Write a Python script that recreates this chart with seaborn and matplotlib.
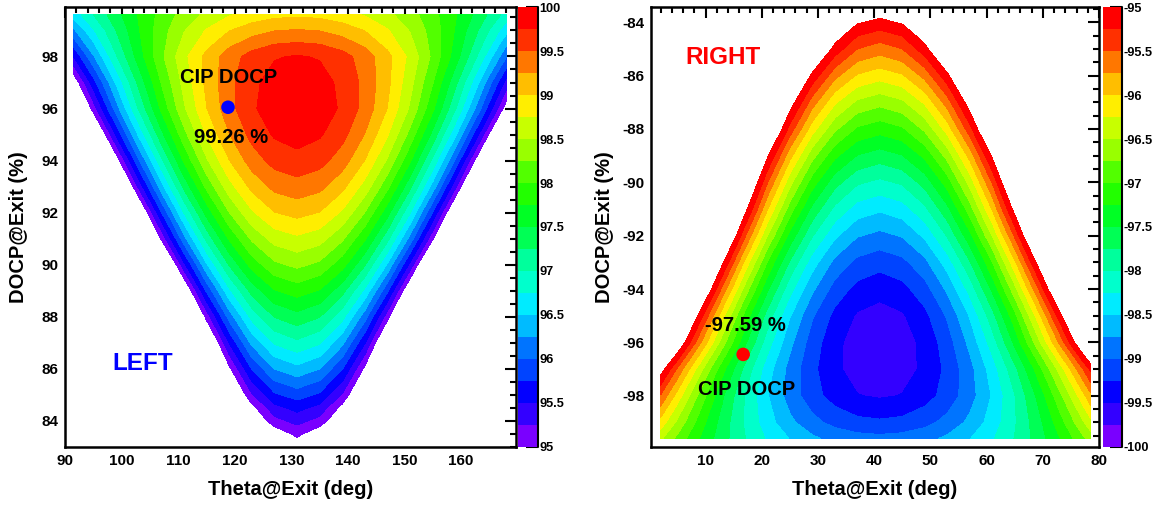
import numpy as np
import matplotlib
matplotlib.use("Agg")
import matplotlib.pyplot as plt
import matplotlib.cm as cm
from matplotlib.colors import ListedColormap, BoundaryNorm
from matplotlib.ticker import MultipleLocator, FuncFormatter
import seaborn as sns

sns.set_style("white")
plt.rcParams['font.family'] = ['Liberation Sans', 'DejaVu Sans']
plt.rcParams['font.weight'] = 'bold'
plt.rcParams['axes.unicode_minus'] = False
plt.rcParams['text.color'] = 'black'
plt.rcParams['axes.labelcolor'] = 'black'
plt.rcParams['xtick.color'] = 'black'
plt.rcParams['ytick.color'] = 'black'

# 20 contour bands, violet -> red (ROOT "pretty" palette)
band_colors = ['#7A00FF', '#3300FF', '#0300FF', '#0044FF', '#0074FF',
               '#00BBFF', '#00EBFF', '#00FFCC', '#00FF9C', '#00FF55',
               '#00FF25', '#22FF00', '#52FF00', '#99FF00', '#C8FF00',
               '#FFEE00', '#FFBE00', '#FF7700', '#FF3000', '#FF0000']

# ---------------- LEFT: DOCP (%) ----------------
left_theta = [91.5, 95, 99, 103, 107, 111, 115, 119, 123, 127, 131,
              135, 139, 143, 147, 151, 155, 159, 163, 167, 168]
left_docp_exit = [83, 83.5, 84, 84.5, 85, 86, 87, 88, 89, 90, 91, 92, 93, 94,
                  95, 96, 97, 98, 99, 99.6]
left_cip_docp = [
    [76.10, 79.20, 82.50, 85.40, 87.90, 90.00, 91.73, 93.07, 94.03, 94.61, 94.80, 94.61, 94.03, 93.07, 91.73, 90.00, 87.90, 85.40, 82.50, 79.20, 78.40],
    [77.80, 80.40, 83.20, 85.90, 88.20, 90.20, 91.90, 93.25, 94.20, 94.79, 95.07, 94.79, 94.20, 93.25, 91.90, 90.20, 88.20, 85.90, 83.20, 80.40, 79.60],
    [78.90, 81.70, 84.56, 87.08, 89.27, 91.12, 92.64, 93.81, 94.66, 95.16, 95.33, 95.16, 94.66, 93.81, 92.64, 91.12, 89.27, 87.08, 84.56, 81.70, 80.90],
    [79.06, 81.85, 84.74, 87.28, 89.48, 91.34, 92.87, 94.05, 94.90, 95.41, 95.58, 95.41, 94.90, 94.05, 92.87, 91.34, 89.48, 87.28, 84.74, 81.85, 81.08],
    [80.35, 82.97, 85.68, 88.07, 90.13, 91.88, 93.31, 94.43, 95.22, 95.70, 95.86, 95.70, 95.22, 94.43, 93.31, 91.88, 90.13, 88.07, 85.68, 82.97, 82.25],
    [80.24, 82.98, 85.80, 88.29, 90.45, 92.27, 93.76, 94.93, 95.76, 96.25, 96.42, 96.25, 95.76, 94.93, 93.76, 92.27, 90.45, 88.29, 85.80, 82.98, 82.22],
    [81.50, 84.11, 86.80, 89.18, 91.24, 92.98, 94.41, 95.51, 96.31, 96.78, 96.94, 96.78, 96.31, 95.51, 94.41, 92.98, 91.24, 89.18, 86.80, 84.11, 83.39],
    [83.26, 85.65, 88.12, 90.30, 92.19, 93.78, 95.09, 96.10, 96.83, 97.26, 97.41, 97.26, 96.83, 96.10, 95.09, 93.78, 92.19, 90.30, 88.12, 85.65, 84.99],
    [85.23, 87.37, 89.57, 91.52, 93.20, 94.62, 95.79, 96.69, 97.34, 97.73, 97.86, 97.73, 97.34, 96.69, 95.79, 94.62, 93.20, 91.52, 89.57, 87.37, 86.78],
    [87.03, 88.94, 90.91, 92.64, 94.15, 95.42, 96.46, 97.27, 97.85, 98.19, 98.31, 98.19, 97.85, 97.27, 96.46, 95.42, 94.15, 92.64, 90.91, 88.94, 88.42],
    [88.76, 90.44, 92.18, 93.71, 95.03, 96.15, 97.07, 97.78, 98.29, 98.60, 98.70, 98.60, 98.29, 97.78, 97.07, 96.15, 95.03, 93.71, 92.18, 90.44, 89.98],
    [90.02, 91.55, 93.13, 94.53, 95.73, 96.76, 97.59, 98.24, 98.71, 98.99, 99.08, 98.99, 98.71, 98.24, 97.59, 96.76, 95.73, 94.53, 93.13, 91.55, 91.13],
    [91.24, 92.62, 94.04, 95.30, 96.39, 97.31, 98.06, 98.65, 99.07, 99.32, 99.40, 99.32, 99.07, 98.65, 98.06, 97.31, 96.39, 95.30, 94.04, 92.62, 92.24],
    [92.28, 93.53, 94.82, 95.96, 96.94, 97.78, 98.46, 98.99, 99.37, 99.59, 99.67, 99.59, 99.37, 98.99, 98.46, 97.78, 96.94, 95.96, 94.82, 93.53, 93.19],
    [93.27, 94.38, 95.53, 96.54, 97.42, 98.16, 98.77, 99.24, 99.58, 99.78, 99.85, 99.78, 99.58, 99.24, 98.77, 98.16, 97.42, 96.54, 95.53, 94.38, 94.07],
    [94.12, 95.11, 96.12, 97.02, 97.80, 98.46, 98.99, 99.41, 99.71, 99.89, 99.95, 99.89, 99.71, 99.41, 98.99, 98.46, 97.80, 97.02, 96.12, 95.11, 94.84],
    [94.77, 95.64, 96.53, 97.32, 98.01, 98.58, 99.06, 99.43, 99.69, 99.85, 99.90, 99.85, 99.69, 99.43, 99.06, 98.58, 98.01, 97.32, 96.53, 95.64, 95.40],
    [95.50, 96.22, 96.97, 97.62, 98.19, 98.68, 99.07, 99.38, 99.60, 99.73, 99.77, 99.73, 99.60, 99.38, 99.07, 98.68, 98.19, 97.62, 96.97, 96.22, 96.02],
    [96.20, 96.72, 97.25, 97.73, 98.14, 98.48, 98.77, 98.99, 99.14, 99.24, 99.27, 99.24, 99.14, 98.99, 98.77, 98.48, 98.14, 97.73, 97.25, 96.72, 96.58],
    [96.60, 97.00, 97.41, 97.77, 98.08, 98.35, 98.56, 98.73, 98.85, 98.93, 98.95, 98.93, 98.85, 98.73, 98.56, 98.35, 98.08, 97.77, 97.41, 97.00, 96.89],
]
left_levels = np.arange(95, 100.001, 0.25)
left_cip = (118.8, 96.05)
left_cip_text = '99.26 %'

# ---------------- RIGHT ----------------
right_theta = [2, 5, 9, 13, 17, 21, 25, 29, 33, 37, 41,
               45, 49, 53, 57, 61, 65, 69, 73, 77, 78.5]
right_docp_exit = [-99.6, -99, -98, -97, -96, -95, -94, -93, -92, -91, -90,
                   -89, -88, -87, -86, -85, -84.5, -84, -83.4]
right_cip_docp = [
    [-96.45, -96.82, -97.26, -97.65, -97.99, -98.28, -98.51, -98.70, -98.83, -98.90, -98.93, -98.90, -98.83, -98.70, -98.51, -98.28, -97.99, -97.65, -97.26, -96.82, -96.64],
    [-96.10, -96.56, -97.12, -97.61, -98.03, -98.39, -98.69, -98.92, -99.08, -99.18, -99.21, -99.18, -99.08, -98.92, -98.69, -98.39, -98.03, -97.61, -97.12, -96.56, -96.33],
    [-95.52, -96.11, -96.83, -97.46, -98.01, -98.48, -98.86, -99.15, -99.36, -99.49, -99.53, -99.49, -99.36, -99.15, -98.86, -98.48, -98.01, -97.46, -96.83, -96.11, -95.82],
    [-94.83, -95.54, -96.40, -97.16, -97.82, -98.38, -98.84, -99.19, -99.45, -99.60, -99.65, -99.60, -99.45, -99.19, -98.84, -98.38, -97.82, -97.16, -96.40, -95.54, -95.19],
    [-93.77, -94.64, -95.70, -96.63, -97.44, -98.13, -98.68, -99.12, -99.43, -99.62, -99.68, -99.62, -99.43, -99.12, -98.68, -98.13, -97.44, -96.63, -95.70, -94.64, -94.21],
    [-92.93, -93.92, -95.11, -96.16, -97.08, -97.85, -98.48, -98.97, -99.32, -99.53, -99.60, -99.53, -99.32, -98.97, -98.48, -97.85, -97.08, -96.16, -95.11, -93.92, -93.44],
    [-91.96, -93.06, -94.39, -95.57, -96.59, -97.45, -98.16, -98.70, -99.10, -99.33, -99.41, -99.33, -99.10, -98.70, -98.16, -97.45, -96.59, -95.57, -94.39, -93.06, -92.52],
    [-90.97, -92.18, -93.65, -94.94, -96.06, -97.01, -97.78, -98.38, -98.82, -99.07, -99.16, -99.07, -98.82, -98.38, -97.78, -97.01, -96.06, -94.94, -93.65, -92.18, -91.59],
    [-89.95, -91.27, -92.85, -94.25, -95.46, -96.49, -97.33, -97.98, -98.45, -98.73, -98.82, -98.73, -98.45, -97.98, -97.33, -96.49, -95.46, -94.25, -92.85, -91.27, -90.62],
    [-89.01, -90.41, -92.10, -93.59, -94.88, -95.98, -96.87, -97.57, -98.06, -98.36, -98.46, -98.36, -98.06, -97.57, -96.87, -95.98, -94.88, -93.59, -92.10, -90.41, -89.72],
    [-88.27, -89.71, -91.47, -93.01, -94.35, -95.48, -96.41, -97.13, -97.65, -97.96, -98.06, -97.96, -97.65, -97.13, -96.41, -95.48, -94.35, -93.01, -91.47, -89.71, -89.01],
    [-87.46, -88.96, -90.78, -92.38, -93.77, -94.95, -95.91, -96.66, -97.19, -97.51, -97.62, -97.51, -97.19, -96.66, -95.91, -94.95, -93.77, -92.38, -90.78, -88.96, -88.22],
    [-86.47, -88.05, -89.96, -91.65, -93.11, -94.34, -95.35, -96.14, -96.70, -97.04, -97.15, -97.04, -96.70, -96.14, -95.35, -94.34, -93.11, -91.65, -89.96, -88.05, -87.28],
    [-85.68, -87.30, -89.27, -91.00, -92.51, -93.78, -94.82, -95.63, -96.21, -96.55, -96.67, -96.55, -96.21, -95.63, -94.82, -93.78, -92.51, -91.00, -89.27, -87.30, -86.51],
    [-84.77, -86.46, -88.49, -90.29, -91.84, -93.16, -94.24, -95.07, -95.67, -96.03, -96.15, -96.03, -95.67, -95.07, -94.24, -93.16, -91.84, -90.29, -88.49, -86.46, -85.63],
    [-82.97, -84.84, -87.11, -89.11, -90.84, -92.30, -93.50, -94.43, -95.10, -95.50, -95.63, -95.50, -95.10, -94.43, -93.50, -92.30, -90.84, -89.11, -87.11, -84.84, -83.93],
    [-82.84, -84.69, -86.93, -88.91, -90.62, -92.07, -93.26, -94.18, -94.84, -95.24, -95.37, -95.24, -94.84, -94.18, -93.26, -92.07, -90.62, -88.91, -86.93, -84.69, -83.78],
    [-83.20, -84.96, -87.08, -88.96, -90.58, -91.96, -93.08, -93.96, -94.58, -94.96, -95.08, -94.96, -94.58, -93.96, -93.08, -91.96, -90.58, -88.96, -87.08, -84.96, -84.10],
    [-76.50, -79.20, -82.46, -85.34, -87.84, -89.95, -91.68, -93.02, -93.98, -94.56, -94.75, -94.56, -93.98, -93.02, -91.68, -89.95, -87.84, -85.34, -82.46, -79.20, -77.90],
]
right_levels = np.arange(-100, -94.999, 0.25)
right_cip = (16.7, -96.45)
right_cip_text = '-97.59 %'


def style_axes(ax, xlim, ylim):
    ax.set_xlim(*xlim)
    ax.set_ylim(*ylim)
    ax.xaxis.set_major_locator(MultipleLocator(10))
    ax.xaxis.set_minor_locator(MultipleLocator(2))
    ax.yaxis.set_major_locator(MultipleLocator(2))
    ax.yaxis.set_minor_locator(MultipleLocator(0.5))
    ax.tick_params(which='both', direction='in', top=True, right=True,
                   width=1.5, color='black', labelcolor='black',
                   labelsize=11, pad=5)
    ax.tick_params(which='major', length=8)
    ax.tick_params(which='minor', length=4)
    for s in ax.spines.values():
        s.set_linewidth(1.8)
        s.set_color('black')
    ax.set_xlabel('Theta@Exit (deg)', fontsize=14.5, fontweight='bold',
                  color='black')
    ax.set_ylabel('DOCP@Exit (%)', fontsize=14.5, fontweight='bold',
                  color='black')
    ax.xaxis.set_label_coords(0.5, -0.075)
    ax.yaxis.set_label_coords(-0.082, 0.5)


def draw_colorbar(fig, cax, cmap, norm, levels):
    sm = cm.ScalarMappable(norm=norm, cmap=cmap)
    cb = fig.colorbar(sm, cax=cax,
                      ticks=np.arange(levels[0], levels[-1] + 0.01, 0.5))
    cb.outline.set_visible(False)
    cax.yaxis.set_major_formatter(FuncFormatter(lambda v, p: f'{v:g}'))
    cax.tick_params(direction='in', length=9, width=1.5, color='black',
                    labelcolor='black', labelsize=9.2, pad=1)
    cax.minorticks_off()
    cax.plot([1, 1], [0, 1], transform=cax.transAxes, color='black', lw=1.5,
             clip_on=False)


cmap = ListedColormap(band_colors)

fig = plt.figure(figsize=(11.61, 5.08), dpi=100)
ax1 = fig.add_axes([0.0560, 0.1201, 0.3885, 0.8661])
cax1 = fig.add_axes([0.4462, 0.1201, 0.0172, 0.8661])
ax2 = fig.add_axes([0.5607, 0.1201, 0.3859, 0.8661])
cax2 = fig.add_axes([0.9500, 0.1201, 0.0164, 0.8661])

# left panel
norm1 = BoundaryNorm(left_levels, cmap.N)
ax1.contourf(left_theta, left_docp_exit, np.array(left_cip_docp),
             levels=left_levels, cmap=cmap, norm=norm1)
style_axes(ax1, (90, 169.7), (83.0, 99.9))
sns.scatterplot(x=[left_cip[0]], y=[left_cip[1]], ax=ax1, s=95,
                color='#0000FF', edgecolor='none', zorder=5)
ax1.text(118.9, 97.2, 'CIP DOCP', fontsize=14.5, fontweight='bold',
         color='black', ha='center', va='center')
ax1.text(119.4, 94.9, left_cip_text, fontsize=14.5, fontweight='bold',
         color='black', ha='center', va='center')
ax1.text(103.7, 86.2, 'LEFT', fontsize=17.5, fontweight='bold',
         color='#0000FF', ha='center', va='center')
draw_colorbar(fig, cax1, cmap, norm1, left_levels)

# right panel
norm2 = BoundaryNorm(right_levels, cmap.N)
ax2.contourf(right_theta, right_docp_exit, np.array(right_cip_docp),
             levels=right_levels, cmap=cmap, norm=norm2)
style_axes(ax2, (0.3, 80), (-99.92, -83.43))
sns.scatterplot(x=[right_cip[0]], y=[right_cip[1]], ax=ax2, s=95,
                color='#FF0000', edgecolor='none', zorder=5)
ax2.text(17.1, -95.35, right_cip_text, fontsize=14.5, fontweight='bold',
         color='black', ha='center', va='center')
ax2.text(17.4, -97.75, 'CIP DOCP', fontsize=14.5, fontweight='bold',
         color='black', ha='center', va='center')
ax2.text(13.1, -85.32, 'RIGHT', fontsize=17.5, fontweight='bold',
         color='#FF0000', ha='center', va='center')
draw_colorbar(fig, cax2, cmap, norm2, right_levels)

fig.savefig('out.png', dpi=100)
